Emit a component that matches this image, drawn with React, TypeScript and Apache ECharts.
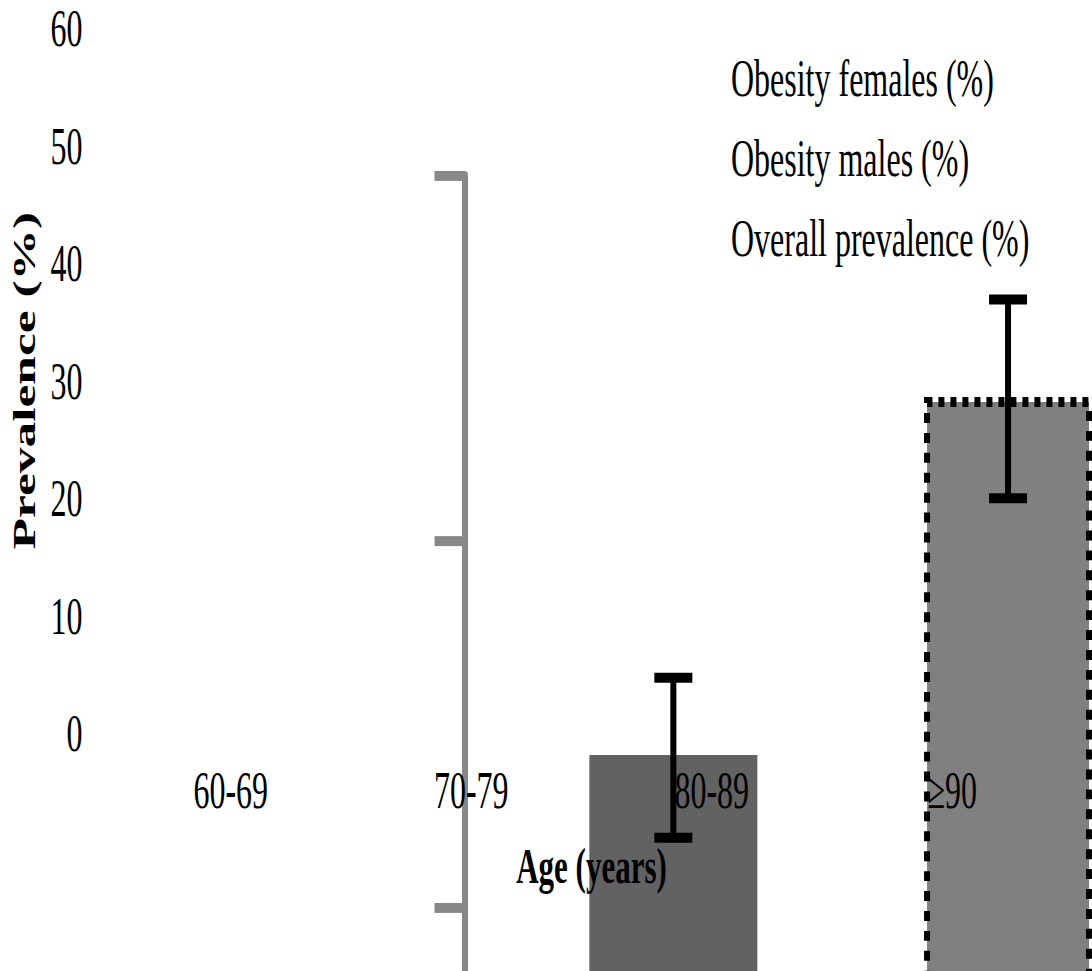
import React, { useEffect, useRef } from "react";
import * as echarts from "echarts";

// ---- data ----
const ageGroups = ["60-69", "70-79", "80-89", "≥90"];
const prevalenceMin = 0;
const prevalenceMax = 60;
const prevalenceStep = 10;
const legendNames = ["Obesity females (%)", "Obesity males (%)", "Overall prevalence (%)"];
const barGroups = ["80-89", "≥90"];
const femalesValues: (number | string)[] = [14.16, "-"];
const malesValues: (number | string)[] = ["-", 23.95];
const ciLow = [11.89, 21.18];
const ciHigh = [16.27, 26.62];
const innerMin = 0;
const innerMax = 30;
const innerStep = 10;

const W = 1092;
const H_FULL = 971;
const H = 585;
const STRETCH = H_FULL / H;
const FONT = "'Liberation Serif', 'Times New Roman', serif";

export default function App() {
  const ref = useRef<HTMLDivElement>(null);
  useEffect(() => {
    if (!ref.current) return;
    const chart = echarts.init(ref.current, undefined, { renderer: "svg", width: W, height: H });
    const errData = barGroups.map((_, i) => [i, ciLow[i], ciHigh[i]]);
    chart.setOption({
      animation: false,
      backgroundColor: "#ffffff",
      textStyle: { fontFamily: FONT, color: "#000" },
      legend: {
        data: legendNames.map((n) => ({ name: n, icon: "none" })),
        orient: "vertical",
        left: 721,
        top: 26,
        itemWidth: 0,
        itemHeight: 0,
        itemGap: 16,
        selectedMode: false,
        textStyle: { fontFamily: FONT, fontSize: 32, color: "#000" },
      },
      grid: [
        { left: 110.5, right: 19.5, top: 17, bottom: 143.4, outerBoundsMode: "none", containLabel: false },
        { left: 506, right: -83.4, top: 106, bottom: -181.6, outerBoundsMode: "none", containLabel: false },
      ],
      xAxis: [
        {
          type: "category",
          gridIndex: 0,
          data: ageGroups,
          z: 6,
          axisLine: { show: false },
          axisTick: { show: false },
          splitLine: { show: false },
          axisLabel: { fontFamily: FONT, fontSize: 32, color: "#000", margin: 18, interval: 0 },
          name: "Age (years)",
          nameLocation: "middle",
          nameGap: 64,
          nameTextStyle: { fontFamily: FONT, fontSize: 31, fontWeight: "bold", color: "#000" },
        },
        {
          type: "category",
          gridIndex: 1,
          data: barGroups,
          show: false,
        },
      ],
      yAxis: [
        {
          type: "value",
          gridIndex: 0,
          min: prevalenceMin,
          max: prevalenceMax,
          interval: prevalenceStep,
          z: 6,
          axisLine: { show: false },
          axisTick: { show: false },
          splitLine: { show: false },
          axisLabel: { fontFamily: FONT, fontSize: 32, color: "#000", margin: 28 },
          name: "Prevalence (%)",
          nameLocation: "middle",
          nameGap: 67,
          nameTextStyle: { fontFamily: FONT, fontSize: 31, fontWeight: "bold", color: "#000" },
        },
        {
          type: "value",
          gridIndex: 1,
          min: innerMin,
          max: innerMax,
          interval: innerStep,
          position: "left",
          offset: 41.5,
          axisLine: { show: true, lineStyle: { color: "#888888", width: 6 } },
          axisTick: { show: true, length: 30, lineStyle: { color: "#888888", width: 6 } },
          axisLabel: { show: false },
          splitLine: { show: false },
        },
      ],
      series: [
        {
          name: legendNames[0],
          type: "bar",
          xAxisIndex: 1,
          yAxisIndex: 1,
          data: femalesValues,
          barWidth: 168,
          barGap: "-100%",
          itemStyle: { color: "#626262" },
        },
        {
          name: legendNames[1],
          type: "bar",
          xAxisIndex: 1,
          yAxisIndex: 1,
          data: malesValues,
          barWidth: 168,
          barGap: "-100%",
          itemStyle: { color: "#808080", borderColor: "#000", borderWidth: 6, borderType: [6, 6] },
        },
        {
          name: legendNames[2],
          type: "custom",
          xAxisIndex: 1,
          yAxisIndex: 1,
          data: errData,
          encode: { x: 0, y: [1, 2] },
          z: 4,
          renderItem: (params: any, api: any) => {
            const lo = api.coord([api.value(0), api.value(1)]);
            const hi = api.coord([api.value(0), api.value(2)]);
            const half = 19;
            const style = { stroke: "#000", lineWidth: 6, fill: "none" };
            return {
              type: "group",
              children: [
                { type: "line", shape: { x1: lo[0], y1: lo[1], x2: hi[0], y2: hi[1] }, style },
                { type: "line", shape: { x1: lo[0] - half, y1: lo[1], x2: lo[0] + half, y2: lo[1] }, style },
                { type: "line", shape: { x1: hi[0] - half, y1: hi[1], x2: hi[0] + half, y2: hi[1] }, style },
              ],
            };
          },
        },
      ],
    });
    return () => chart.dispose();
  }, []);

  return (
    <div style={{ position: "fixed", left: 0, top: 0, width: W, height: H_FULL, overflow: "hidden", background: "#fff" }}>
      <div
        ref={ref}
        style={{ width: W, height: H, transform: `scaleY(${STRETCH})`, transformOrigin: "0 0" }}
      />
    </div>
  );
}
